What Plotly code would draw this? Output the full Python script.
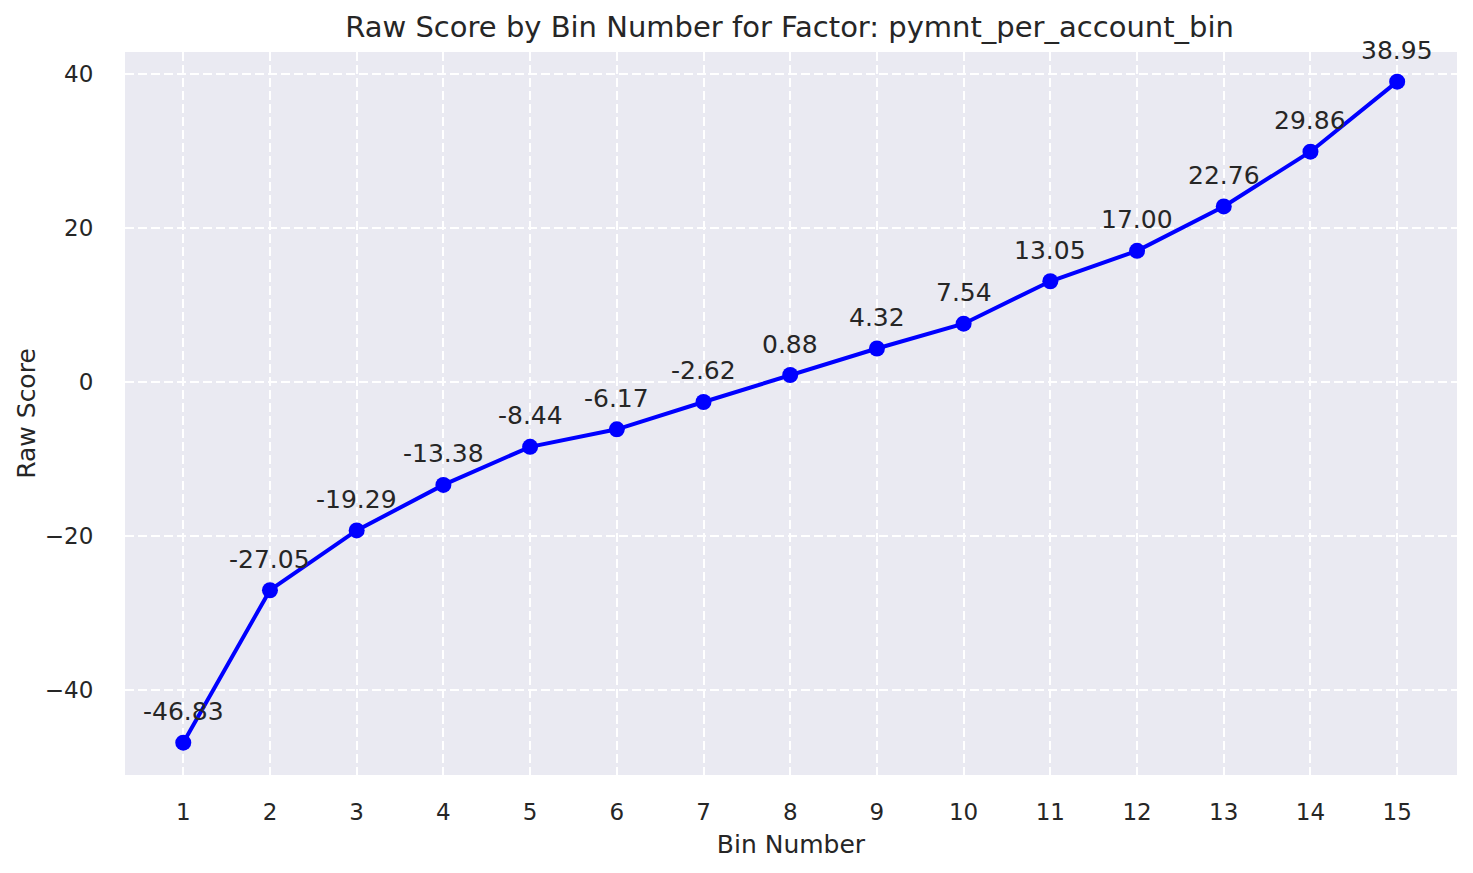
import plotly.graph_objects as go

bins = list(range(1, 16))
raw_scores = [-46.83, -27.05, -19.29, -13.38, -8.44, -6.17, -2.62, 0.88,
              4.32, 7.54, 13.05, 17.00, 22.76, 29.86, 38.95]
y_tick_vals = [-40, -20, 0, 20, 40]
y_tick_text = ["\u221240", "\u221220", "0", "20", "40"]

TEXT = "#262626"
FONT = "DejaVu Sans"

fig = go.Figure()
fig.add_trace(go.Scatter(
    x=bins, y=raw_scores, mode="lines+markers",
    line=dict(color="#0000FF", width=4),
    marker=dict(color="#0000FF", size=16),
    showlegend=False, hoverinfo="skip",
))

for b, s in zip(bins, raw_scores):
    fig.add_annotation(x=b, y=s, text=f"{s:.2f}", showarrow=False,
                       xanchor="center", yanchor="middle", yshift=31,
                       font=dict(family=FONT, size=25, color=TEXT))

fig.update_layout(
    width=1465, height=865,
    margin=dict(l=117, r=16, t=44, b=98),
    paper_bgcolor="white", plot_bgcolor="#EAEAF2",
    font=dict(family=FONT, color=TEXT, size=23),
    title=dict(text="Raw Score by Bin Number for Factor: pymnt_per_account_bin",
               x=0.5335, xanchor="center", yref="container", y=1 - 19 / 865,
               yanchor="middle", font=dict(family=FONT, size=29, color=TEXT)),
)
fig.update_xaxes(
    range=[0.328, 15.69], tickvals=bins, ticktext=[str(b) for b in bins],
    showgrid=True, gridcolor="white", gridwidth=2, griddash="9px,4px",
    zeroline=False, showline=False,
    ticks="outside", ticklen=16, tickcolor="rgba(0,0,0,0)",
    tickfont=dict(family=FONT, size=23, color=TEXT),
    title=dict(text="Bin Number", font=dict(family=FONT, size=25, color=TEXT), standoff=11),
)
fig.update_yaxes(
    range=[-51.03, 42.8], tickvals=y_tick_vals, ticktext=y_tick_text,
    showgrid=True, gridcolor="white", gridwidth=2, griddash="9px,4px",
    zeroline=False, showline=False,
    ticks="outside", ticklen=26, tickcolor="rgba(0,0,0,0)",
    tickfont=dict(family=FONT, size=23, color=TEXT),
    title=dict(text="Raw Score", font=dict(family=FONT, size=25, color=TEXT), standoff=2),
)

fig.write_html("out.html")
